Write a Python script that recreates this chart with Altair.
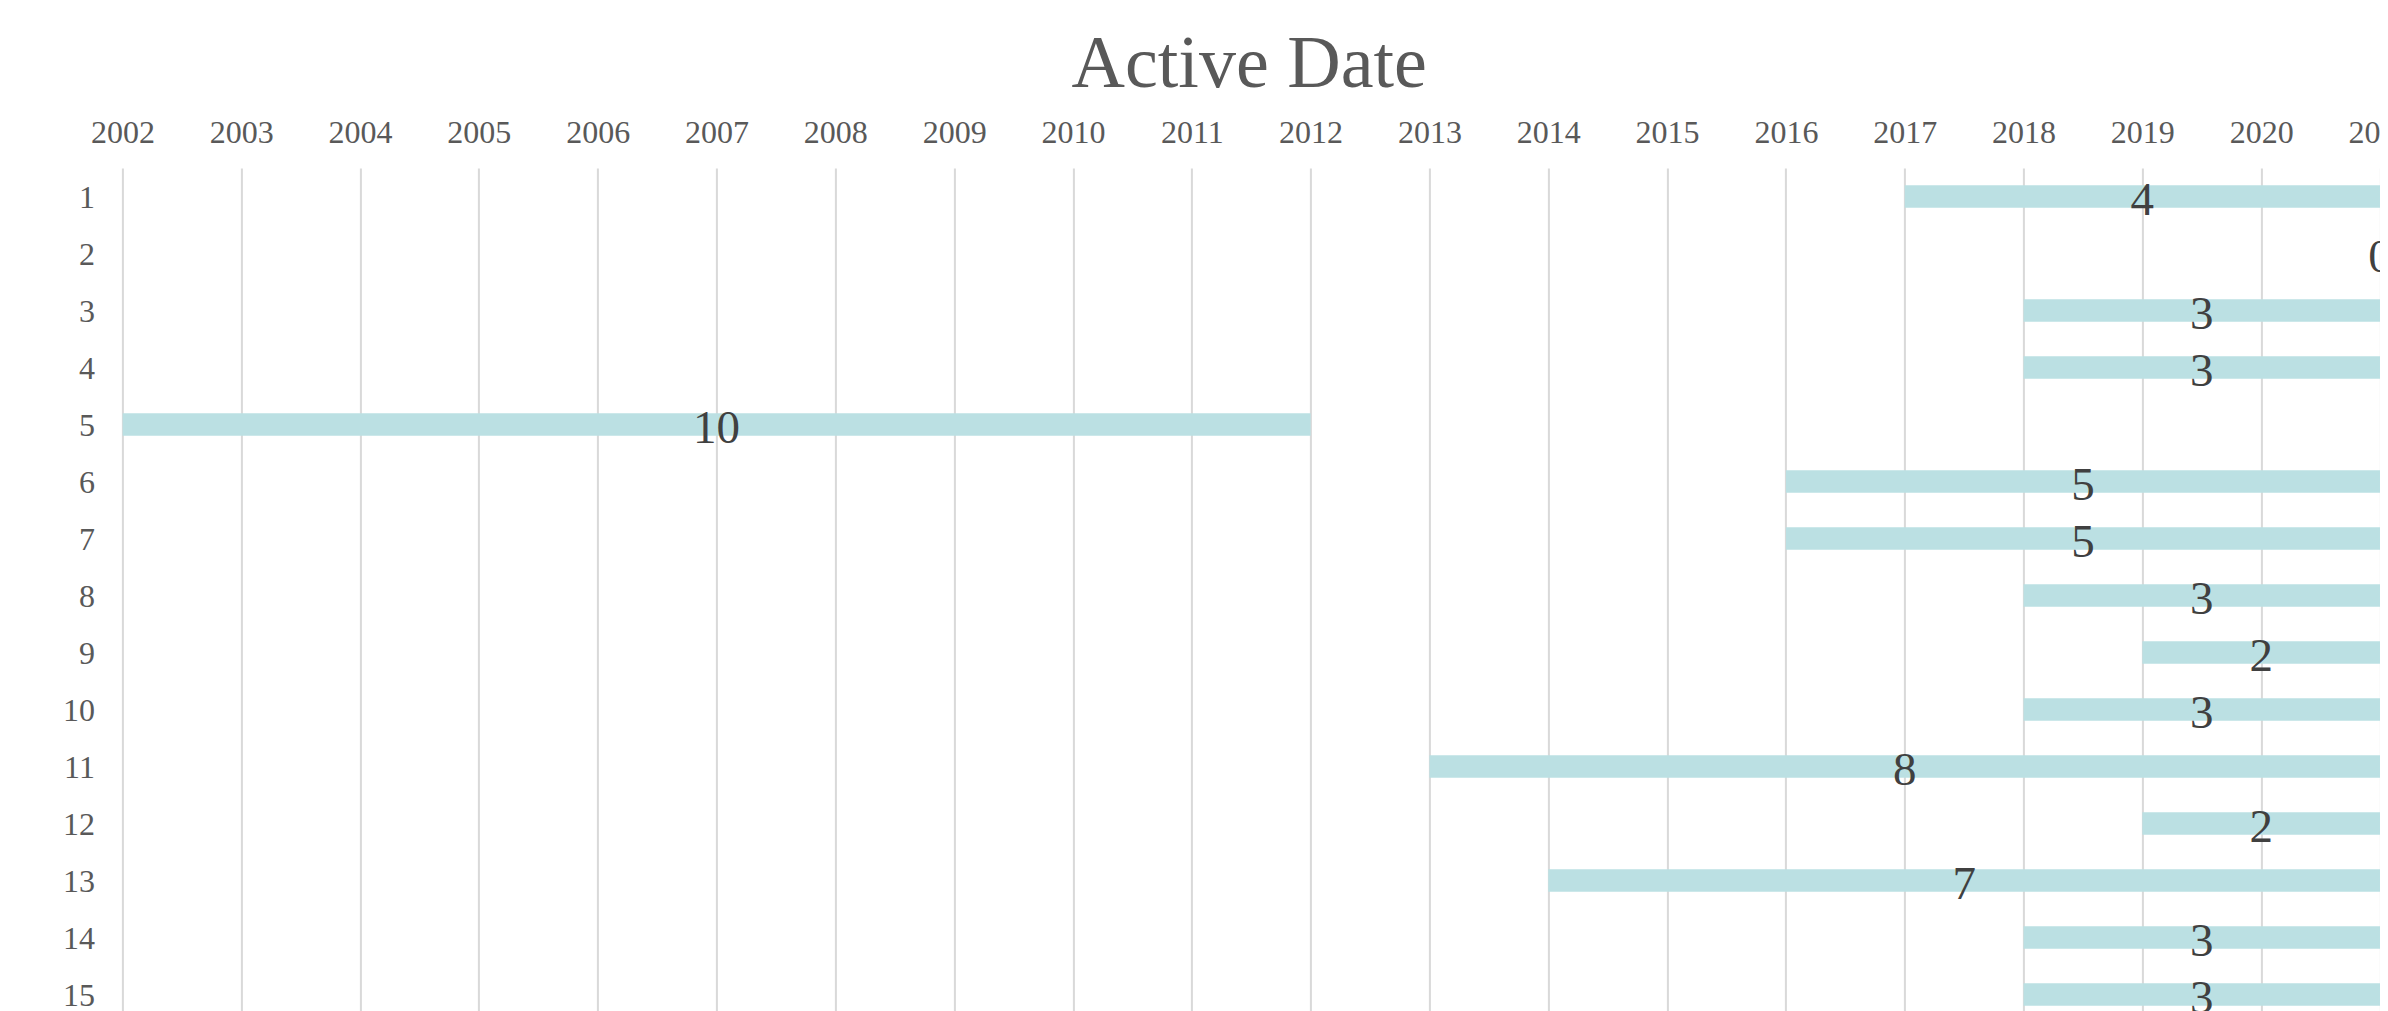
import altair as alt
import pandas as pd

rows = list(range(1, 16))
start_year = [2017, 2021, 2018, 2018, 2002, 2016, 2016, 2018, 2019, 2018, 2013, 2019, 2014, 2018, 2018]
end_year = [2021, 2021, 2021, 2021, 2012, 2021, 2021, 2021, 2021, 2021, 2021, 2021, 2021, 2021, 2021]
years = list(range(2002, 2022))

df = pd.DataFrame({"row": rows, "start": start_year, "end": end_year})
df["dur"] = df["end"] - df["start"]

FONT = "Liberation Serif"
PAD_L = 114.4
PLOT_W = 2257.6
PLOT_H = 843
ROW_STEP = 57.0
y_max = 0.5 + PLOT_H / ROW_STEP

x_scale = alt.Scale(domain=[2002, 2021], nice=False, zero=False, padding=0)
y_scale = alt.Scale(domain=[0.5, y_max], nice=False, zero=False, reverse=True, padding=0)

x_axis = alt.Axis(orient="top", values=years, format="d", title=None,
                  grid=True, gridColor="#D9D9D9", gridWidth=2,
                  domain=False, ticks=False, tickSize=0,
                  labelFont=FONT, labelFontSize=32, labelColor="#595959",
                  labelPadding=26, labelBaseline="alphabetic",
                  labelFlush=False, labelOverlap=False, labelBound=False)
y_axis = alt.Axis(values=rows, format="d", title=None, grid=False,
                  domain=False, ticks=False, tickSize=0,
                  labelFont=FONT, labelFontSize=32, labelColor="#595959",
                  labelPadding=28, labelBaseline="alphabetic", labelOffset=10.5,
                  labelOverlap=False, labelBound=False, labelFlush=False)

base = alt.Chart(df)

bars = base.mark_bar(color="#BBE0E3", height=22.4, clip=True).encode(
    x=alt.X("start:Q", scale=x_scale, axis=x_axis),
    x2="end:Q",
    y=alt.Y("row:Q", scale=y_scale, axis=y_axis),
)

labels = base.transform_calculate(mid="(datum.start + datum.end) / 2").mark_text(
    font=FONT, fontSize=47, color="#404040", baseline="alphabetic", dy=18, align="center",
    clip=True,
).encode(
    x=alt.X("mid:Q", scale=x_scale, axis=x_axis),
    y=alt.Y("row:Q", scale=y_scale, axis=y_axis),
    text=alt.Text("dur:Q", format="d"),
)

chart = alt.layer(bars, labels).properties(
    width=PLOT_W,
    height=PLOT_H,
    background="white",
    title=alt.TitleParams("Active Date", font=FONT, fontSize=74, fontWeight="normal",
                          color="#595959", anchor="middle", baseline="alphabetic",
                          offset=-45, dx=-2),
    autosize=alt.AutoSizeParams(type="none"),
    padding={"left": PAD_L, "top": 160, "right": 0, "bottom": 0},
).configure_view(strokeOpacity=0, strokeWidth=0)

chart.save("out.html", embed_options={"renderer": "svg", "actions": False})
